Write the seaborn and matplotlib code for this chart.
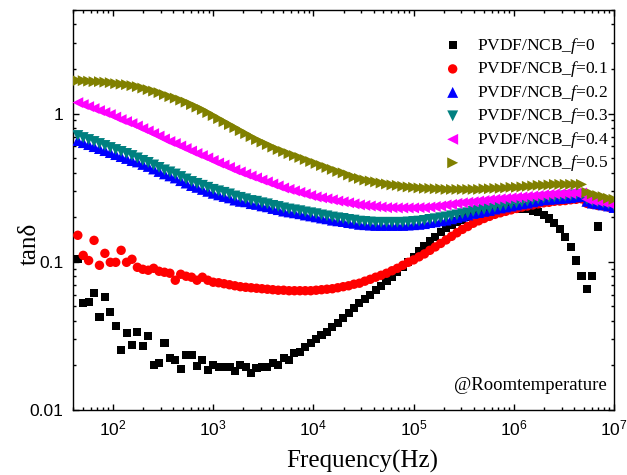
import numpy as np
import pandas as pd
import matplotlib
matplotlib.use("Agg")
import matplotlib.pyplot as plt
import seaborn as sns
from matplotlib.ticker import LogLocator, NullFormatter, LogFormatterSciNotation, FixedLocator, FixedFormatter

# ---------------- data ----------------
# measurement sweep: 100 log-spaced frequencies, ~45 Hz .. 10 MHz
FREQ_START, FREQ_STOP, N_POINTS = 10 ** 1.65, 1.0e7, 100
freq = np.geomspace(FREQ_START, FREQ_STOP, N_POINTS)

labels = ["PVDF/NCB_$f$=0", "PVDF/NCB_$f$=0.1", "PVDF/NCB_$f$=0.2",
          "PVDF/NCB_$f$=0.3", "PVDF/NCB_$f$=0.4", "PVDF/NCB_$f$=0.5"]

tand_f00 = [0.1043, 0.0525, 0.0534, 0.0614, 0.0423, 0.0577, 0.0457, 0.0368, 0.0254, 0.0330,
            0.0274, 0.0335, 0.0270, 0.0315, 0.0201, 0.0207, 0.0283, 0.0224, 0.0217, 0.0189,
            0.0235, 0.0235, 0.0198, 0.0217, 0.0186, 0.0201, 0.0195, 0.0195, 0.0195, 0.0183,
            0.0201, 0.0195, 0.0178, 0.0192, 0.0195, 0.0195, 0.0207, 0.0201, 0.0224, 0.0217,
            0.0242, 0.0246, 0.0266, 0.0283, 0.0300, 0.0320, 0.0335, 0.0362, 0.0385, 0.0416,
            0.0450, 0.0486, 0.0525, 0.0564, 0.0599, 0.0643, 0.0690, 0.0740, 0.0793, 0.0850,
            0.0918, 0.0992, 0.108, 0.1175, 0.127, 0.137, 0.147, 0.158, 0.168, 0.178,
            0.187, 0.193, 0.201, 0.209, 0.2155, 0.222, 0.227, 0.229, 0.231, 0.232,
            0.232, 0.231, 0.229, 0.226, 0.2205, 0.2155, 0.207, 0.196, 0.182, 0.1655,
            0.146, 0.125, 0.102, 0.0799, 0.0653, 0.0799, 0.173, np.nan, np.nan, np.nan]

tand_f01 = [0.151, 0.1105, 0.102, 0.1395, 0.0947, 0.114, 0.0992, 0.0992, 0.1195, 0.0992,
            0.104, 0.0918, 0.089, 0.0877, 0.0904, 0.0863, 0.0850, 0.0837, 0.0751, 0.0824,
            0.0799, 0.0787, 0.0751, 0.0787, 0.0751, 0.0728, 0.0722, 0.0711, 0.0700, 0.0689,
            0.0679, 0.0673, 0.0668, 0.0663, 0.0658, 0.0653, 0.0648, 0.0643, 0.0643, 0.0638,
            0.0638, 0.0638, 0.0638, 0.0638, 0.0643, 0.0648, 0.0653, 0.0658, 0.0668, 0.0679,
            0.0689, 0.0706, 0.0717, 0.0740, 0.0762, 0.0787, 0.0811, 0.0837, 0.0870, 0.0904,
            0.0947, 0.0992, 0.1030, 0.108, 0.113, 0.1195, 0.126, 0.133, 0.1405, 0.1485,
            0.157, 0.1655, 0.173, 0.182, 0.189, 0.196, 0.2025, 0.209, 0.214, 0.219,
            0.224, 0.229, 0.234, 0.238, 0.242, 0.246, 0.250, 0.252, 0.256, 0.257,
            0.259, 0.262, 0.264, 0.266, 0.248, 0.244, 0.240, 0.238, 0.234, 0.232]

tand_f02 = [0.658, 0.637, 0.618, 0.599, 0.581, 0.563, 0.546, 0.529, 0.513, 0.498,
            0.482, 0.472, 0.454, 0.440, 0.423, 0.407, 0.392, 0.380, 0.368, 0.353,
            0.340, 0.327, 0.318, 0.308, 0.299, 0.290, 0.283, 0.276, 0.270, 0.261,
            0.256, 0.254, 0.247, 0.244, 0.2385, 0.235, 0.229, 0.225, 0.220, 0.217,
            0.214, 0.211, 0.207, 0.204, 0.201, 0.1975, 0.195, 0.191, 0.189, 0.187,
            0.184, 0.182, 0.179, 0.178, 0.177, 0.176, 0.176, 0.176, 0.176, 0.176,
            0.176, 0.177, 0.178, 0.179, 0.181, 0.184, 0.186, 0.189, 0.191, 0.195,
            0.199, 0.203, 0.207, 0.212, 0.215, 0.219, 0.222, 0.227, 0.231, 0.2345,
            0.238, 0.242, 0.246, 0.249, 0.254, 0.258, 0.262, 0.264, 0.2655, 0.2675,
            0.269, 0.271, 0.274, 0.276, 0.256, 0.249, 0.246, 0.242, 0.238, 0.2325]

tand_f03 = [0.711, 0.689, 0.668, 0.648, 0.628, 0.609, 0.590, 0.572, 0.555, 0.538,
            0.521, 0.502, 0.483, 0.468, 0.450, 0.433, 0.417, 0.404, 0.391, 0.376,
            0.362, 0.348, 0.338, 0.328, 0.318, 0.308, 0.301, 0.294, 0.287, 0.278,
            0.272, 0.266, 0.259, 0.256, 0.250, 0.246, 0.240, 0.236, 0.231, 0.227,
            0.224, 0.221, 0.217, 0.214, 0.211, 0.207, 0.204, 0.2005, 0.198, 0.196,
            0.193, 0.191, 0.188, 0.187, 0.1855, 0.1845, 0.1845, 0.1845, 0.1845, 0.1845,
            0.1845, 0.1855, 0.187, 0.188, 0.190, 0.193, 0.195, 0.198, 0.2005, 0.204,
            0.207, 0.211, 0.214, 0.219, 0.222, 0.226, 0.229, 0.234, 0.238, 0.242,
            0.246, 0.250, 0.254, 0.257, 0.262, 0.266, 0.270, 0.272, 0.274, 0.276,
            0.278, 0.280, 0.283, 0.285, 0.264, 0.257, 0.254, 0.250, 0.246, 0.240]

tand_f04 = [1.186, 1.150, 1.115, 1.081, 1.048, 1.016, 0.985, 0.947, 0.911, 0.883,
            0.856, 0.824, 0.792, 0.763, 0.733, 0.705, 0.674, 0.648, 0.628, 0.604,
            0.581, 0.559, 0.538, 0.521, 0.502, 0.483, 0.464, 0.450, 0.433, 0.417,
            0.404, 0.391, 0.379, 0.368, 0.356, 0.346, 0.335, 0.325, 0.315, 0.308,
            0.301, 0.294, 0.287, 0.280, 0.274, 0.270, 0.266, 0.262, 0.257, 0.254,
            0.250, 0.246, 0.242, 0.240, 0.238, 0.236, 0.234, 0.232, 0.232, 0.231,
            0.231, 0.231, 0.231, 0.232, 0.232, 0.234, 0.236, 0.238, 0.242, 0.244,
            0.248, 0.250, 0.252, 0.254, 0.257, 0.259, 0.262, 0.264, 0.266, 0.268,
            0.270, 0.272, 0.274, 0.276, 0.278, 0.280, 0.283, 0.285, 0.287, 0.287,
            0.289, 0.289, 0.291, 0.291, 0.264, 0.259, 0.256, 0.252, 0.248, 0.244]

tand_f05 = [1.668, 1.668, 1.655, 1.643, 1.643, 1.630, 1.618, 1.592, 1.580, 1.568,
            1.544, 1.520, 1.486, 1.451, 1.418, 1.385, 1.342, 1.302, 1.272, 1.233,
            1.195, 1.150, 1.106, 1.064, 1.016, 0.970, 0.925, 0.883, 0.843, 0.805,
            0.768, 0.733, 0.700, 0.668, 0.643, 0.618, 0.594, 0.572, 0.555, 0.537,
            0.521, 0.506, 0.490, 0.475, 0.461, 0.446, 0.433, 0.420, 0.407, 0.398,
            0.385, 0.373, 0.365, 0.356, 0.351, 0.346, 0.340, 0.335, 0.330, 0.328,
            0.323, 0.320, 0.318, 0.315, 0.313, 0.313, 0.311, 0.311, 0.308, 0.308,
            0.308, 0.308, 0.308, 0.308, 0.308, 0.311, 0.311, 0.313, 0.313, 0.315,
            0.318, 0.318, 0.320, 0.323, 0.325, 0.328, 0.328, 0.330, 0.333, 0.333,
            0.333, 0.333, 0.333, 0.333, 0.294, 0.287, 0.280, 0.275, 0.268, 0.264]

series = [tand_f00, tand_f01, tand_f02, tand_f03, tand_f04, tand_f05]
colors = ["#000000", "#FF0000", "#0000FF", "#008080", "#FF00FF", "#808000"]
markers = ["s", "o", "^", "v", "<", ">"]
sizes = [34, 46, 62, 62, 62, 62]

x_ticks = [1e2, 1e3, 1e4, 1e5, 1e6, 1e7]
y_ticks = [0.01, 0.1, 1]
y_ticklabels = ["0.01", "0.1", "1"]

# ---------------- style ----------------
sns.set_theme(style="ticks")
plt.rcParams["font.family"] = ["Liberation Sans", "DejaVu Sans"]
plt.rcParams["mathtext.fontset"] = "custom"
plt.rcParams["mathtext.rm"] = "Liberation Sans"
plt.rcParams["mathtext.it"] = "Liberation Serif:italic"
plt.rcParams["xtick.direction"] = "in"
plt.rcParams["ytick.direction"] = "in"

W, H = 627, 475
fig = plt.figure(figsize=(W / 100, H / 100), dpi=100)
L, R, T, B = 73, 614, 10, 410
ax = fig.add_axes([L / W, 1 - B / H, (R - L) / W, (B - T) / H])

frames = []
for lab, vals in zip(labels, series):
    frames.append(pd.DataFrame({"freq": freq, "tand": vals, "sample": lab}))
df = pd.concat(frames, ignore_index=True)

for lab, col, mk, sz in zip(labels, colors, markers, sizes):
    sub = df[df["sample"] == lab].dropna()
    sns.scatterplot(data=sub, x="freq", y="tand", marker=mk, color=col, s=sz,
                    linewidth=0, edgecolor="none", ax=ax, label=lab, zorder=3)

ax.set_xscale("log")
ax.set_yscale("log")
ax.set_xlim(40, 1e7)
ax.set_ylim(0.01, 5)

ax.xaxis.set_major_locator(FixedLocator(x_ticks))
ax.xaxis.set_major_formatter(LogFormatterSciNotation())
ax.xaxis.set_minor_locator(LogLocator(base=10, subs=np.arange(2, 10), numticks=20))
ax.xaxis.set_minor_formatter(NullFormatter())
ax.yaxis.set_major_locator(FixedLocator(y_ticks))
ax.yaxis.set_major_formatter(FixedFormatter(y_ticklabels))
ax.yaxis.set_minor_locator(LogLocator(base=10, subs=np.arange(2, 10), numticks=20))
ax.yaxis.set_minor_formatter(NullFormatter())

ax.tick_params(which="both", direction="in", top=True, right=True, color="black", width=1.0)
ax.tick_params(which="major", length=4.5, labelsize=12.5, colors="black")
ax.tick_params(which="minor", length=2.5)
ax.tick_params(axis="y", which="major", pad=7)
ax.tick_params(axis="x", which="major", pad=6)
for sp in ax.spines.values():
    sp.set_linewidth(1.0)
    sp.set_color("black")

ax.set_xlabel("Frequency(Hz)", fontsize=18, family="Liberation Serif", color="black")
ax.set_ylabel("tanδ", fontsize=18, family="Liberation Serif", color="black")
ax.xaxis.set_label_coords((362 - L) / (R - L), -0.1)
ax.yaxis.set_label_coords(-0.06, (B - 244) / (B - T))

ax.text((607 - L) / (R - L), (B - 385) / (B - T), "@Roomtemperature", transform=ax.transAxes,
        ha="right", va="center", fontsize=13.5, family="Liberation Serif", color="black")

leg = ax.legend(loc="upper left", bbox_to_anchor=(444 / W, 1 - 36 / H), bbox_transform=fig.transFigure,
                frameon=False, prop={"family": "Liberation Serif", "size": 12.5},
                handlelength=1.0, handletextpad=0.9, labelspacing=0.2, borderpad=0, borderaxespad=0)
for t in leg.get_texts():
    t.set_color("black")

fig.savefig("out.png", dpi=100)
